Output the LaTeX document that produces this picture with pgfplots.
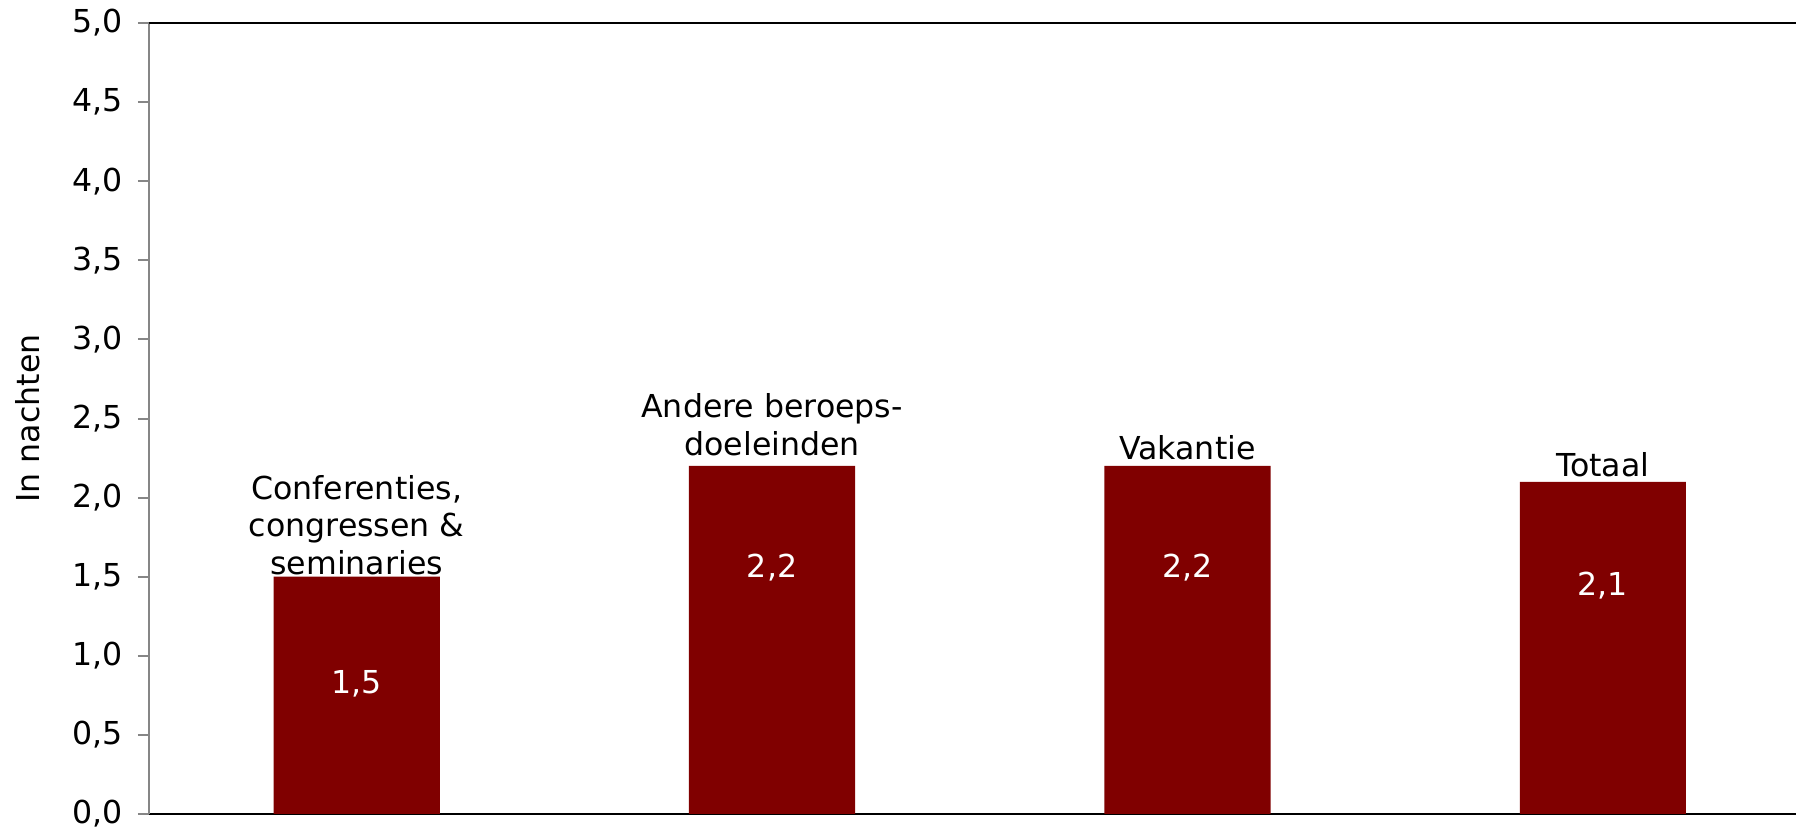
\documentclass[border=0pt]{standalone}
\usepackage{fontspec}
\setmainfont{DejaVu Sans}
\usepackage{pgfplots}
\pgfplotsset{compat=1.18}
\definecolor{barred}{HTML}{800000}
\definecolor{axgray}{HTML}{868686}
\newcommand{\lbl}{\fontsize{15.8pt}{19pt}\selectfont}

\begin{document}
\begin{tikzpicture}
\useasboundingbox (-74.5pt,-8pt) rectangle (823.5pt,407pt);
\begin{axis}[
    at={(0,0)}, anchor=south west,
    scale only axis, width=823.5pt, height=395.5pt,
    ybar, bar width=0.4,
    xmin=-0.5, xmax=3.465,
    ymin=0, ymax=5,
    axis x line*=bottom, axis y line*=left,
    x axis line style={black, line width=1.2pt, -},
    y axis line style={axgray, line width=1pt, -},
    xtick=\empty,
    ytick={0,0.5,1,1.5,2,2.5,3,3.5,4,4.5,5},
    tick align=outside, major tick length=5.5pt,
    ytick style={axgray, line width=1pt},
    y tick label style={font=\lbl, xshift=-4pt,
        /pgf/number format/.cd, fixed, fixed zerofill, precision=1, use comma, assume math mode=true},
    clip=false,
]
\addplot[fill=barred, draw=none] coordinates {(0,1.5) (1,2.2) (2,2.2) (3,2.1)};

% top frame line
\draw[black, line width=1pt] (rel axis cs:0,1) -- (rel axis cs:1,1);

% category labels
\node[font=\lbl, anchor=base] at (axis cs:0,1.99) {Conferenties,};
\node[font=\lbl, anchor=base] at (axis cs:0,1.754) {congressen \&};
\node[font=\lbl, anchor=base] at (axis cs:0,1.517) {seminaries};
\node[font=\lbl, anchor=base] at (axis cs:1,2.505) {Andere beroeps-};
\node[font=\lbl, anchor=base] at (axis cs:1,2.269) {doeleinden};
\node[font=\lbl, anchor=base] at (axis cs:2,2.238) {Vakantie};
\node[font=\lbl, anchor=base] at (axis cs:3,2.136) {Totaal};

% value labels
\node[font=\lbl, white, anchor=base] at (axis cs:0,0.76) {1,5};
\node[font=\lbl, white, anchor=base] at (axis cs:1,1.498) {2,2};
\node[font=\lbl, white, anchor=base] at (axis cs:2,1.498) {2,2};
\node[font=\lbl, white, anchor=base] at (axis cs:3,1.378) {2,1};

% y axis title
\node[font=\lbl, rotate=90] at ([xshift=-60.5pt]rel axis cs:0,0.5) {In nachten};
\end{axis}
\end{tikzpicture}
\end{document}
